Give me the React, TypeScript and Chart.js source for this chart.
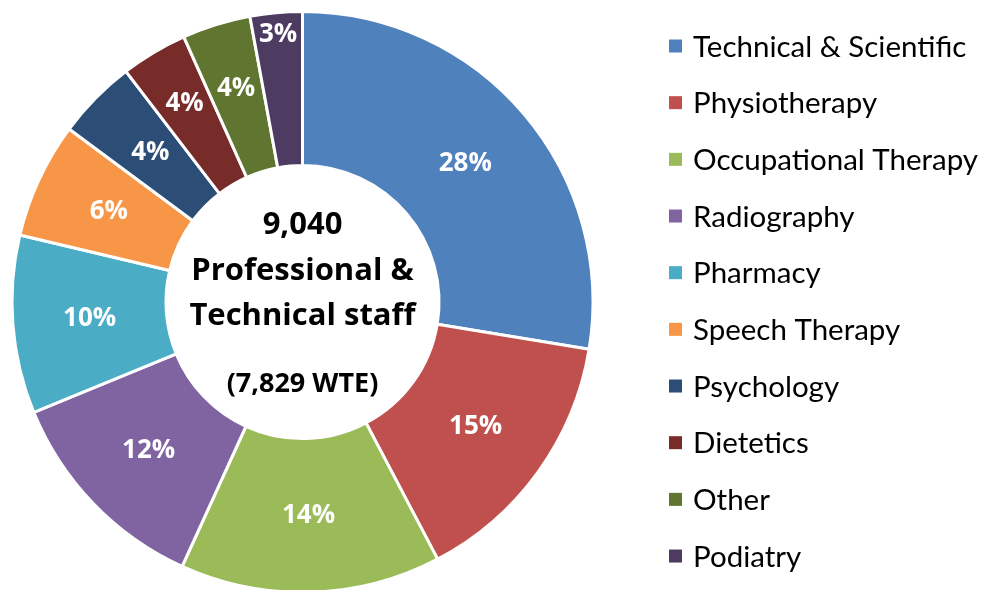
import React, { useEffect, useRef } from "react";
import { Chart, registerables } from "chart.js";

Chart.register(...registerables);

const categories = [
  "Technical & Scientific",
  "Physiotherapy",
  "Occupational Therapy",
  "Radiography",
  "Pharmacy",
  "Speech Therapy",
  "Psychology",
  "Dietetics",
  "Other",
  "Podiatry",
];
const sharePercent = [27.6, 14.7, 14.5, 12.0, 9.9, 6.45, 4.45, 3.7, 3.8, 2.9];
const sliceColors = [
  "#4F81BD",
  "#C0504D",
  "#9BBB59",
  "#8064A2",
  "#4BACC6",
  "#F79646",
  "#2C4D75",
  "#772C2A",
  "#5F7530",
  "#4D3B62",
];
const centerLines = ["9,040", "Professional &", "Technical staff"];
const centerSubLine = "(7,829 WTE)";

const LEGEND_FONT = "Lato, 'Open Sans', sans-serif";
const BOLD_FONT = "'Open Sans', Lato, sans-serif";

function normAngle(a: number, start: number) {
  let v = a;
  while (v < start) v += Math.PI * 2;
  while (v >= start + Math.PI * 2) v -= Math.PI * 2;
  return v;
}

// Push a label outward along its slice's mid-angle until its box fits inside the wedge.
function labelPosition(arc: any, w: number, h: number) {
  const { x, y, startAngle, endAngle, innerRadius, outerRadius } = arc.getProps(
    ["x", "y", "startAngle", "endAngle", "innerRadius", "outerRadius"],
    true
  );
  const mid = (startAngle + endAngle) / 2;
  const margin = 0.005;
  const a0 = startAngle + margin;
  const a1 = endAngle - margin;
  const rStart = (innerRadius + outerRadius) / 2;
  const rEnd = outerRadius - h / 2 - 8;
  let best = rStart;
  for (let r = rStart; r <= rEnd; r += 1) {
    const cx = x + Math.cos(mid) * r;
    const cy = y + Math.sin(mid) * r;
    const corners = [
      [cx - w / 2, cy - h / 2],
      [cx + w / 2, cy - h / 2],
      [cx - w / 2, cy + h / 2],
      [cx + w / 2, cy + h / 2],
    ];
    const ok = corners.every(([px, py]) => {
      const ang = normAngle(Math.atan2(py - y, px - x), a0 - 0.5);
      return ang >= a0 && ang <= a1;
    });
    best = r;
    if (ok) break;
  }
  return { px: x + Math.cos(mid) * best, py: y + Math.sin(mid) * best };
}

const sliceLabelPlugin = {
  id: "sliceLabels",
  afterDatasetsDraw(chart: any) {
    const ctx = chart.ctx;
    const meta = chart.getDatasetMeta(0);
    const data = chart.data.datasets[0].data as number[];
    const total = data.reduce((a, b) => a + b, 0);
    ctx.save();
    ctx.font = `bold 26px ${BOLD_FONT}`;
    ctx.fillStyle = "#FFFFFF";
    ctx.textAlign = "center";
    ctx.textBaseline = "middle";
    meta.data.forEach((arc: any, i: number) => {
      const text = Math.round((data[i] / total) * 100) + "%";
      const w = ctx.measureText(text).width + 6;
      const p = labelPosition(arc, w, 26);
      ctx.fillText(text, p.px, p.py);
    });
    ctx.restore();
  },
};

const centerTextPlugin = {
  id: "centerText",
  afterDraw(chart: any) {
    const ctx = chart.ctx;
    const arc = chart.getDatasetMeta(0).data[0];
    if (!arc) return;
    const cx = arc.x;
    const cy = arc.y;
    ctx.save();
    ctx.fillStyle = "#000000";
    ctx.textAlign = "center";
    ctx.textBaseline = "middle";
    ctx.font = `bold 31px ${BOLD_FONT}`;
    const offs = [-77, -31, 14];
    centerLines.forEach((t, i) => ctx.fillText(t, cx, cy + offs[i]));
    ctx.font = `bold 27px ${BOLD_FONT}`;
    ctx.fillText(centerSubLine, cx, cy + 82);
    ctx.restore();
  },
};

const rightLegendPlugin = {
  id: "rightLegend",
  afterDraw(chart: any) {
    const ctx = chart.ctx;
    const labels = chart.data.labels as string[];
    const colors = chart.data.datasets[0].backgroundColor as string[];
    const x0 = chart.chartArea.right + 64;
    const y0 = 46;
    const step = 56.67;
    ctx.save();
    ctx.font = `29.5px ${LEGEND_FONT}`;
    ctx.textAlign = "left";
    ctx.textBaseline = "middle";
    labels.forEach((t, i) => {
      const y = y0 + i * step;
      ctx.fillStyle = colors[i];
      ctx.fillRect(x0, y - 6.5, 13, 13);
      ctx.fillStyle = "#000000";
      ctx.fillText(t, x0 + 24, y + 1);
    });
    ctx.restore();
  },
};

export default function App() {
  const canvasRef = useRef<HTMLCanvasElement | null>(null);

  useEffect(() => {
    if (!canvasRef.current) return;
    const chart = new Chart(canvasRef.current, {
      type: "doughnut",
      data: {
        labels: categories,
        datasets: [
          {
            data: sharePercent,
            backgroundColor: sliceColors,
            borderColor: "#FFFFFF",
            borderWidth: 3,
          },
        ],
      },
      options: {
        responsive: false,
        animation: false,
        cutout: "47%",
        layout: { padding: { top: 10, bottom: 0, left: 0, right: 376 } },
        plugins: {
          tooltip: { enabled: false },
          legend: { display: false },
        },
      },
      plugins: [sliceLabelPlugin, centerTextPlugin, rightLegendPlugin],
    });
    return () => chart.destroy();
  }, []);

  return (
    <div
      style={{
        position: "fixed",
        left: 0,
        top: 0,
        width: 981,
        height: 590,
        overflow: "hidden",
        background: "#fff",
      }}
    >
      <canvas ref={canvasRef} width={981} height={594} style={{ display: "block" }} />
    </div>
  );
}
